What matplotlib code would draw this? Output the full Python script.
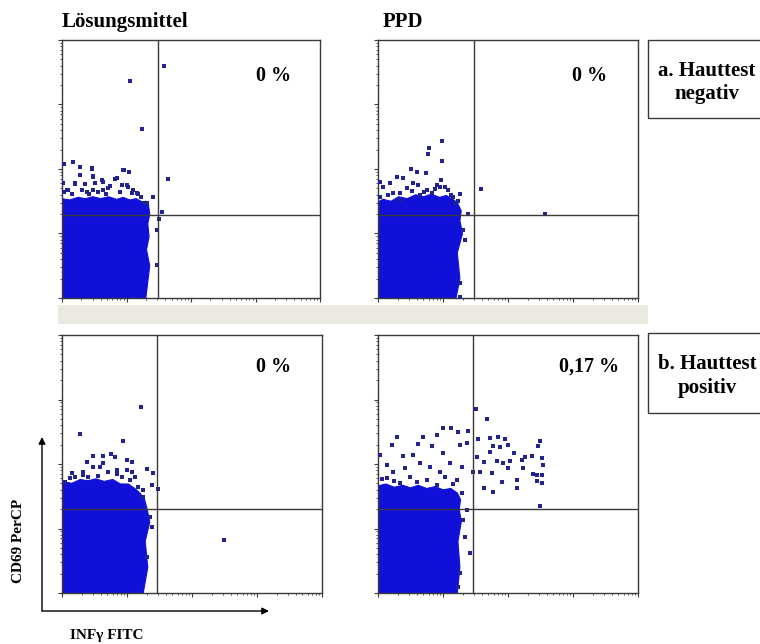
import numpy as np
import matplotlib
matplotlib.use("Agg")
import matplotlib.pyplot as plt
from matplotlib.patches import Rectangle, Polygon

# ---------------- data (log10 fluorescence, decades) ----------------
column_titles = ["Lösungsmittel", "PPD"]
row_labels = [("a. Hauttest", "negativ"), ("b. Hauttest", "positiv")]
percent_labels = ["0 %", "0 %", "0 %", "0,17 %"]
x_axis_label = "INFγ FITC"
y_axis_label = "CD69 PerCP"

# quadrant gates (log10 INFγ, log10 CD69)
gate_x = [1.49, 1.48, 1.46, 1.46]
gate_y = [1.29, 1.29, 1.30, 1.30]

# outline of dense cell population (log10 x, log10 y)
cloud1_x = [0, 1.30, 1.36, 1.31, 1.35, 1.33, 1.36, 1.34, 1.30, 1.24, 1.15, 1.05, 0.95,
            0.85, 0.72, 0.60, 0.48, 0.36, 0.25, 0.12, 0]
cloud1_y = [0, 0, 0.50, 0.75, 0.95, 1.15, 1.30, 1.45, 1.50, 1.49, 1.54, 1.52, 1.56,
            1.53, 1.57, 1.54, 1.57, 1.54, 1.56, 1.52, 1.54]
cloud2_x = [0, 1.20, 1.26, 1.22, 1.30, 1.26, 1.28, 1.22, 1.15, 1.05, 0.95, 0.82, 0.70,
            0.58, 0.45, 0.32, 0.20, 0.08, 0]
cloud2_y = [0, 0, 0.30, 0.70, 1.00, 1.20, 1.35, 1.48, 1.53, 1.59, 1.56, 1.61, 1.57,
            1.60, 1.54, 1.57, 1.50, 1.53, 1.49]
cloud3_x = [0, 1.25, 1.32, 1.28, 1.35, 1.31, 1.27, 1.20, 1.12, 1.02, 0.90, 0.78, 0.65,
            0.52, 0.40, 0.28, 0.15, 0.05, 0]
cloud3_y = [0, 0, 0.40, 0.80, 1.10, 1.30, 1.45, 1.55, 1.62, 1.69, 1.69, 1.76, 1.73,
            1.77, 1.74, 1.76, 1.70, 1.72, 1.68]
cloud4_x = [0, 1.22, 1.26, 1.23, 1.28, 1.25, 1.27, 1.22, 1.12, 1.00, 0.88, 0.75, 0.62,
            0.50, 0.38, 0.25, 0.12, 0]
cloud4_y = [0, 0, 0.40, 0.80, 1.10, 1.30, 1.45, 1.55, 1.62, 1.60, 1.65, 1.62, 1.67,
            1.63, 1.67, 1.64, 1.69, 1.66]

# individual events outside the dense population
pts1_x = [1.586, 1.054, 1.240, 1.648, 0.031, 0.175, 0.279, 0.460, 0.961, 1.039,
          0.485, 0.848, 0.202, 0.357, 0.640, 0.925, 1.028, 0.020, 0.098, 0.305,
          0.485, 0.718, 1.080, 1.183, 1.415, 1.545, 1.508, 1.468, 1.468, 1.313,
          0.460, 0.279, 0.485, 0.615, 0.820, 0.950, 0.200, 0.510, 0.744, 1.000,
          1.158, 0.073, 0.383, 0.640, 0.899, 1.287, 1.415, 0.150, 0.560, 0.680,
          1.230, 0.030, 0.420, 1.100]
pts1_y = [3.596, 3.368, 2.624, 1.849, 2.077, 2.103, 2.026, 1.999, 1.984, 1.958,
          1.896, 1.855, 1.767, 1.767, 1.803, 1.750, 1.725, 1.778, 1.674, 1.674,
          1.674, 1.700, 1.632, 1.612, 1.561, 1.338, 1.220, 1.054, 0.512, 1.473,
          2.010, 1.907, 1.880, 1.829, 1.840, 1.984, 1.778, 1.778, 1.736, 1.750,
          1.623, 1.674, 1.648, 1.674, 1.648, 1.468, 1.570, 1.620, 1.640, 1.610,
          1.560, 1.640, 1.610, 1.680]
pts2_x = [0.989, 0.784, 0.774, 0.989, 0.508, 0.595, 0.734, 0.288, 0.389, 0.969,
          0.543, 1.584, 0.185, 0.031, 0.903, 1.030, 0.338, 0.749, 1.261, 1.235,
          1.389, 2.568, 1.312, 1.338, 1.261, 1.261,
          0.082, 0.236, 0.441, 0.620, 0.826, 1.081, 1.158, 0.031, 0.338, 0.646,
          0.954, 1.189, 0.150, 0.520, 0.880, 1.120, 0.700]
pts2_y = [2.434, 2.330, 2.227, 2.124, 2.000, 1.958, 1.942, 1.880, 1.865, 1.829,
          1.778, 1.694, 1.778, 1.803, 1.752, 1.726, 1.623, 1.674, 1.612, 1.508,
          1.302, 1.302, 1.054, 0.899, 0.228, 0.020,
          1.726, 1.623, 1.700, 1.752, 1.623, 1.674, 1.570, 1.570, 1.520, 1.600,
          1.726, 1.468, 1.600, 1.660, 1.690, 1.600, 1.640]
pts3_x = [1.210, 0.277, 0.933, 0.472, 0.636, 0.754, 0.815, 0.995, 1.072, 0.380,
          1.303, 1.395, 0.149, 1.481, 1.380, 1.250, 1.353, 1.380, 1.303, 2.490,
          0.584, 0.841, 0.328, 1.072,
          0.200, 0.481, 0.712, 0.918, 1.046, 1.174, 0.046, 0.328, 0.636, 1.123,
          1.250, 0.560, 0.850, 0.120, 0.400, 1.000]
pts3_y = [2.878, 2.460, 2.360, 2.124, 2.124, 2.155, 2.113, 2.062, 2.036, 2.036,
          1.922, 1.865, 1.855, 1.607, 1.674, 1.493, 1.183, 1.028, 0.563, 0.820,
          1.958, 1.907, 1.829, 1.880,
          1.803, 1.958, 1.880, 1.803, 1.752, 1.648, 1.725, 1.880, 2.010, 1.803,
          1.596, 1.820, 1.850, 1.780, 1.800, 1.900]
pts4_x = [1.507, 1.681, 1.005, 1.118, 1.235, 1.389, 0.288, 0.697, 0.903, 1.540,
          1.730, 1.847, 1.950, 2.490, 0.210, 0.620, 0.826, 1.261, 1.364, 1.774,
          1.877, 2.004, 2.466, 0.031, 0.389, 0.543, 1.005, 1.518, 1.723, 2.092,
          2.261, 2.364, 2.518, 1.625, 1.826, 1.928, 2.031, 2.210, 2.535, 0.134,
          0.646, 1.107, 1.287, 1.466, 1.569, 1.749, 2.004, 2.226, 2.389, 2.451,
          2.518, 1.903, 2.140, 2.441, 2.518, 1.630, 1.774, 2.133, 2.490, 0.236,
          0.415, 0.800, 0.954, 1.210, 1.287, 1.364, 1.312, 1.338, 1.415, 1.261,
          1.235,
          0.134, 0.492, 0.749, 1.030, 0.338, 0.903, 0.060, 0.600, 1.150, 0.250]
pts4_y = [2.847, 2.697, 2.560, 2.560, 2.496, 2.507, 2.418, 2.418, 2.444, 2.392,
          2.408, 2.418, 2.392, 2.356, 2.294, 2.310, 2.279, 2.294, 2.320, 2.279,
          2.268, 2.294, 2.279, 2.139, 2.124, 2.139, 2.165, 2.103, 2.190, 2.175,
          2.113, 2.124, 2.088, 2.036, 2.051, 2.010, 2.051, 2.062, 1.984, 1.984,
          2.010, 2.020, 1.958, 1.880, 1.880, 1.855, 1.933, 1.933, 1.845, 1.829,
          1.829, 1.725, 1.752, 1.741, 1.700, 1.623, 1.570, 1.633, 1.353, 1.880,
          1.933, 1.958, 1.880, 1.752, 1.546, 1.287, 1.132, 0.873, 0.625, 0.305,
          0.098,
          1.778, 1.803, 1.752, 1.803, 1.700, 1.674, 1.760, 1.720, 1.690, 1.740]

clouds = [(cloud1_x, cloud1_y), (cloud2_x, cloud2_y), (cloud3_x, cloud3_y), (cloud4_x, cloud4_y)]
points = [(pts1_x, pts1_y), (pts2_x, pts2_y), (pts3_x, pts3_y), (pts4_x, pts4_y)]

# ---------------- figure ----------------
W, H = 760, 644
fig = plt.figure(figsize=(W / 100, H / 100), dpi=100)
SERIF = ["Liberation Serif", "DejaVu Serif"]

def frac(x0, y0, x1, y1):
    """pixel box (top-left origin) -> figure fraction rect"""
    return [x0 / W, 1 - y1 / H, (x1 - x0) / W, (y1 - y0) / H]

panel_boxes = [(62, 40, 320, 298), (378, 40, 638, 298),
               (62, 335, 322, 593), (378, 335, 638, 593)]
percent_pos = [(274, 76), (590, 76), (274, 367), (589, 367)]

dense_color = "#1010d8"
dot_color = "#23238f"
frame_color = "#3a3a3a"

for i, box in enumerate(panel_boxes):
    ax = fig.add_axes(frac(*box))
    ax.set_xscale("log")
    ax.set_yscale("log")
    ax.set_xlim(1, 1e4)
    ax.set_ylim(1, 1e4)
    cx, cy = clouds[i]
    ax.add_patch(Polygon(np.column_stack([10 ** np.array(cx), 10 ** np.array(cy)]),
                         closed=True, facecolor=dense_color, edgecolor=dense_color,
                         linewidth=0.8, zorder=2))
    px, py = points[i]
    ax.scatter(10 ** np.array(px), 10 ** np.array(py), s=6.5, marker="s",
               color=dot_color, linewidths=0, zorder=3)
    ax.axvline(10 ** gate_x[i], color=frame_color, lw=1.0, zorder=4)
    ax.axhline(10 ** gate_y[i], color=frame_color, lw=1.0, zorder=4)
    for sp in ax.spines.values():
        sp.set_color(frame_color)
        sp.set_linewidth(1.0)
    ax.tick_params(which="both", direction="out", labelbottom=False, labelleft=False,
                   top=False, right=False, colors=frame_color)
    ax.tick_params(which="major", length=3, width=0.8)
    ax.tick_params(which="minor", length=1.5, width=0.6)

# overlay in pixel coordinates for annotations
ov = fig.add_axes([0, 0, 1, 1], zorder=5)
ov.set_xlim(0, W)
ov.set_ylim(H, 0)
ov.axis("off")
ov.patch.set_alpha(0)

ov.add_patch(Rectangle((58, 305), 590, 19, facecolor="#ece9e0", edgecolor="none"))

for (x, y), lab in zip(percent_pos, percent_labels):
    ov.text(x, y, lab, ha="center", va="center", fontsize=14.5,
            fontweight="bold", family=SERIF)

ov.text(62, 27, column_titles[0], ha="left", va="baseline", fontsize=15,
        fontweight="bold", family=SERIF)
ov.text(383, 27, column_titles[1], ha="left", va="baseline", fontsize=15,
        fontweight="bold", family=SERIF)

for (y0, y1), (l1, l2), (b1, b2) in zip([(40, 118), (333, 413)], row_labels,
                                         [(76, 99), (369, 393)]):
    ov.add_patch(Rectangle((648, y0), 140, y1 - y0, facecolor="white",
                           edgecolor=frame_color, linewidth=1.0, clip_on=False))
    ov.text(707, b1, l1, ha="center", va="baseline", fontsize=15,
            fontweight="bold", family=SERIF)
    ov.text(707, b2, l2, ha="center", va="baseline", fontsize=15,
            fontweight="bold", family=SERIF)

# axis arrows
ov.annotate("", xy=(42, 437), xytext=(42, 611),
            arrowprops=dict(arrowstyle="-|>", color="black", lw=1.0,
                            mutation_scale=10, shrinkA=0, shrinkB=0))
ov.annotate("", xy=(269, 611), xytext=(42, 611),
            arrowprops=dict(arrowstyle="-|>", color="black", lw=1.0,
                            mutation_scale=10, shrinkA=0, shrinkB=0))
ov.text(19, 541, y_axis_label, rotation=90, ha="center", va="center",
        fontsize=11, fontweight="bold", family=SERIF)
ov.text(107, 639, x_axis_label, ha="center", va="baseline",
        fontsize=11, fontweight="bold", family=SERIF)

fig.savefig("out.png", dpi=100)
